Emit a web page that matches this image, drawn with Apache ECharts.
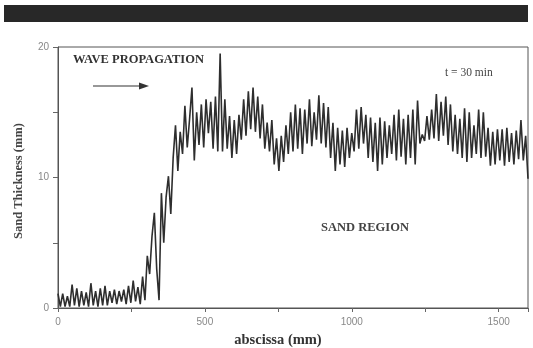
<!DOCTYPE html>
<html>
<head>
<meta charset="utf-8">
<script src="https://cdn.jsdelivr.net/npm/echarts@6/dist/echarts.min.js"></script>
<style>html,body{margin:0;padding:0;background:#fff;}#c{width:533px;height:348px;}</style>
</head>
<body>
<div id="c"></div>
<script>
// sample spacing along the abscissa (mm)
const xStep = 8;
// sand thickness (mm), one value every xStep mm from 0 to 1600
const thickness = [
  1.1,0.1,1.1,0.1,0.9,0.1,1.8,0.2,1.5,0.1,
  1.3,0.2,1.2,0.1,1.9,0.2,1.3,0.1,1.5,0.2,
  1.7,0.2,1.3,0.4,1.4,0.3,1.3,0.5,1.4,0.3,
  1.7,0.4,2.1,0.5,1.6,0.3,2.4,0.6,4.0,2.6,
  5.5,7.3,3.0,0.6,8.8,5.0,8.5,10.1,7.2,11.5,
  14.0,10.5,13.5,11.8,15.5,12.3,14.5,16.9,11.3,15.0,
  12.5,15.6,12.3,16.0,13.4,15.8,12.2,16.2,12.0,19.5,
  12.0,16.0,12.2,14.7,11.5,14.4,11.8,14.8,12.9,16.0,
  13.2,16.6,13.7,16.9,13.5,16.2,13.0,15.6,12.2,14.2,
  12.0,14.4,11.0,13.0,10.5,13.2,11.2,14.0,11.8,15.0,
  12.0,15.6,12.2,15.3,11.8,15.2,12.6,16.0,12.4,15.0,
  12.9,16.3,12.6,15.7,12.3,15.4,11.5,14.2,10.5,13.8,
  11.0,13.6,10.8,13.8,11.5,13.4,12.0,15.2,12.2,15.4,
  12.6,14.8,11.5,14.6,11.2,14.2,10.5,14.6,11.0,14.3,
  11.5,14.0,11.8,14.8,11.3,15.2,11.6,14.5,11.0,14.8,
  11.5,15.2,11.0,15.9,12.6,13.3,12.8,14.7,12.9,15.2,
  13.0,16.4,12.8,15.8,13.2,16.2,12.5,15.6,12.0,14.8,
  11.8,14.5,11.5,15.3,11.2,15.0,11.5,14.0,11.8,15.2,
  11.5,15.0,11.6,13.8,10.9,13.5,11.0,13.7,11.3,13.7,
  10.9,13.8,11.2,13.4,11.0,13.6,11.4,14.4,11.3,13.2,
  9.9
];
const xTickLabels = [0, 500, 1000, 1500];
const yTickLabels = [0, 10, 20];

const chart = echarts.init(document.getElementById('c'), null, {renderer: 'canvas'});
const serif = '"Liberation Serif", "DejaVu Serif", serif';
const sans = '"Liberation Sans", Arial, sans-serif';

chart.setOption({
  animation: false,
  backgroundColor: '#fff',
  grid: {left: 58, top: 47, right: 5, bottom: 40, show: true, borderColor: '#555', borderWidth: 1},
  xAxis: {
    type: 'value', min: 0, max: 1600, interval: 250,
    axisLine: {show: true, lineStyle: {color: '#555', width: 1}},
    axisTick: {show: true, length: 4, lineStyle: {color: '#666'}},
    splitLine: {show: false},
    axisLabel: {
      margin: 9, color: '#888', fontFamily: sans, fontSize: 10,
      formatter: v => xTickLabels.indexOf(v) >= 0 ? String(v) : ''
    }
  },
  yAxis: {
    type: 'value', min: 0, max: 20, interval: 5,
    axisLine: {show: true, lineStyle: {color: '#555', width: 1}},
    axisTick: {show: true, length: 5, lineStyle: {color: '#666'}},
    splitLine: {show: false},
    axisLabel: {
      margin: 9, color: '#888', fontFamily: sans, fontSize: 10,
      formatter: v => yTickLabels.indexOf(v) >= 0 ? String(v) : ''
    }
  },
  series: [{
    type: 'line',
    data: thickness.map((v, i) => [i * xStep, v]),
    showSymbol: false,
    symbol: 'none',
    lineStyle: {color: '#2e2e2e', width: 1.6},
    z: 3
  }],
  graphic: [
    {type: 'rect', shape: {x: 4, y: 5, width: 524, height: 17}, style: {fill: '#282828'}},
    {type: 'text', x: 19, y: 181, rotation: Math.PI / 2,
      style: {text: 'Sand Thickness (mm)', x: 0, y: 0, textAlign: 'center', textVerticalAlign: 'middle',
        font: 'bold 12.5px ' + serif, fill: '#444'}},
    {type: 'text', x: 278, y: 340,
      style: {text: 'abscissa (mm)', x: 0, y: 0, textAlign: 'center', textVerticalAlign: 'middle',
        font: 'bold 14.5px ' + serif, fill: '#333'}},
    {type: 'text', x: 73, y: 60,
      style: {text: 'WAVE PROPAGATION', x: 0, y: 0, textAlign: 'left', textVerticalAlign: 'middle',
        font: 'bold 12.5px ' + serif, fill: '#333'}},
    {type: 'text', x: 445, y: 73,
      style: {text: 't = 30 min', x: 0, y: 0, textAlign: 'left', textVerticalAlign: 'middle',
        font: '11.5px ' + serif, fill: '#444'}},
    {type: 'text', x: 365, y: 228,
      style: {text: 'SAND REGION', x: 0, y: 0, textAlign: 'center', textVerticalAlign: 'middle',
        font: 'bold 12.5px ' + serif, fill: '#444'}},
    {type: 'line', shape: {x1: 93, y1: 86, x2: 141, y2: 86}, style: {stroke: '#333', lineWidth: 1.2}},
    {type: 'polygon', shape: {points: [[149, 86], [139, 82.5], [139, 89.5]]}, style: {fill: '#333'}}
  ]
});
</script>
</body>
</html>
